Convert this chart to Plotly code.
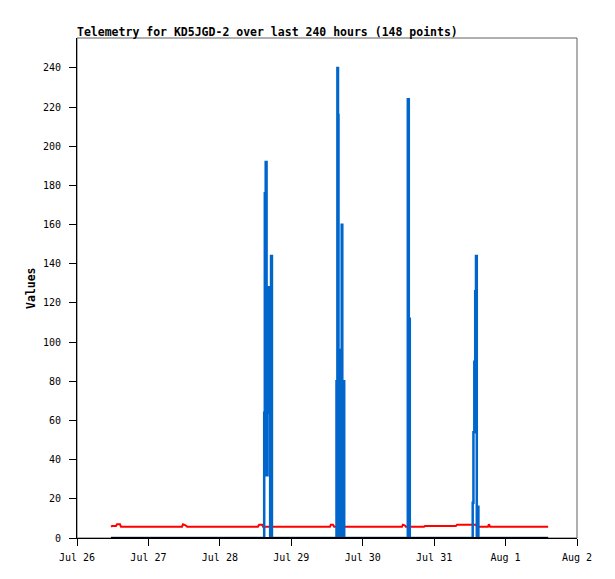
"""Telemetry plot for KD5JGD-2 (gnuplot look-alike)."""

import pandas as pd
import plotly.graph_objects as go

START = pd.Timestamp("2023-07-26 00:00")

# hours after Jul 26 00:00
red_hours = [11.42, 11.76, 13.1, 13.44, 14.45, 14.78, 35.3, 35.6, 36.3, 37.0,
             60.8, 61.2, 62.2, 62.5, 85.0, 85.3, 86.0, 86.4, 109.2, 109.5,
             110.2, 110.5, 116.6, 116.9, 127.3, 127.7, 134.1, 134.4, 138.1,
             138.4, 138.8, 158.3]
red_vals = [5.8, 6.1, 6.1, 7.0, 7.0, 5.8, 5.8, 7.0, 6.6, 5.8,
            5.8, 6.8, 6.8, 5.8, 5.8, 6.8, 6.8, 5.8, 5.8, 6.8,
            6.4, 5.8, 5.8, 6.1, 6.1, 6.8, 6.8, 5.8, 5.8,
            7.0, 5.8, 5.8]

blue_hours = [11.42,
              62.7, 62.9, 63.1, 63.4, 63.7, 64.0, 64.3, 64.6, 64.9, 65.2, 65.5,
              87.02, 87.19, 87.36, 87.49, 87.70, 87.86, 88.03, 88.20, 88.37,
              88.54, 88.70, 88.94, 89.14, 89.31, 89.48, 89.64, 89.78,
              110.81, 111.15, 111.48, 111.82,
              132.72, 132.96, 133.2, 133.5, 133.8, 134.06, 134.33, 134.6, 134.87,
              158.3]
blue_vals = [0,
             0, 64, 176, 192, 32, 96, 128, 64, 0, 144, 0,
             0, 80, 0, 240, 216, 0, 80, 0, 96,
             0, 80, 160, 0, 80, 0, 80, 0,
             0, 224, 112, 0,
             0, 18, 54, 90, 126, 144, 0, 16, 0,
             0]

black_hours = [11.42, 158.3]
black_vals = [0, 0]


def to_time(hours):
    return [START + pd.Timedelta(hours=h) for h in hours]


MONO = "DejaVu Sans Mono"

fig = go.Figure()
fig.add_trace(go.Scatter(x=to_time(red_hours), y=red_vals, mode="lines",
                         line=dict(color="#ff0000", width=2)))
fig.add_trace(go.Scatter(x=to_time(blue_hours), y=blue_vals, mode="lines",
                         line=dict(color="#0066cc", width=2.5, shape="hv")))
fig.add_trace(go.Scatter(x=to_time(black_hours), y=black_vals, mode="lines",
                         line=dict(color="#000000", width=2)))

# page body has an 8px margin, so the figure is a bit smaller and shifted
fig.update_layout(
    width=607,
    height=571,
    margin=dict(l=69, r=38, t=30, b=41),
    paper_bgcolor="white",
    plot_bgcolor="white",
    showlegend=False,
    font=dict(family=MONO, size=10, color="black"),
)

fig.update_xaxes(
    type="date",
    range=["2023-07-26", "2023-08-02"],
    dtick=86400000,
    tickformat="%b %-d",
    ticks="outside",
    ticklen=7,
    tickcolor="black",
    ticklabelstandoff=3,
    showline=True,
    linecolor="black",
    showgrid=False,
    zeroline=False,
)
fig.update_yaxes(
    range=[0, 255.3],
    dtick=20,
    ticks="outside",
    ticklen=7,
    tickcolor="black",
    ticklabelstandoff=6,
    showline=True,
    linecolor="black",
    showgrid=False,
    zeroline=False,
)

# grey frame on top/right like gnuplot border
fig.add_shape(type="rect", xref="paper", yref="paper", x0=0, y0=0, x1=1, y1=1,
              line=dict(color="#606060", width=1), layer="below")

fig.add_annotation(
    text="<b>Telemetry for KD5JGD-2 over last 240 hours (148 points)</b>",
    xref="paper", yref="paper", x=0, y=1, xanchor="left", yanchor="bottom",
    xshift=-2, yshift=-3, showarrow=False, font=dict(family=MONO, size=11.5),
)
fig.add_annotation(
    text="<b>Values</b>", xref="paper", yref="paper", x=0, y=0.5,
    xshift=-55, textangle=-90, showarrow=False, font=dict(family=MONO, size=11.5),
)

fig.write_html("out.html")
